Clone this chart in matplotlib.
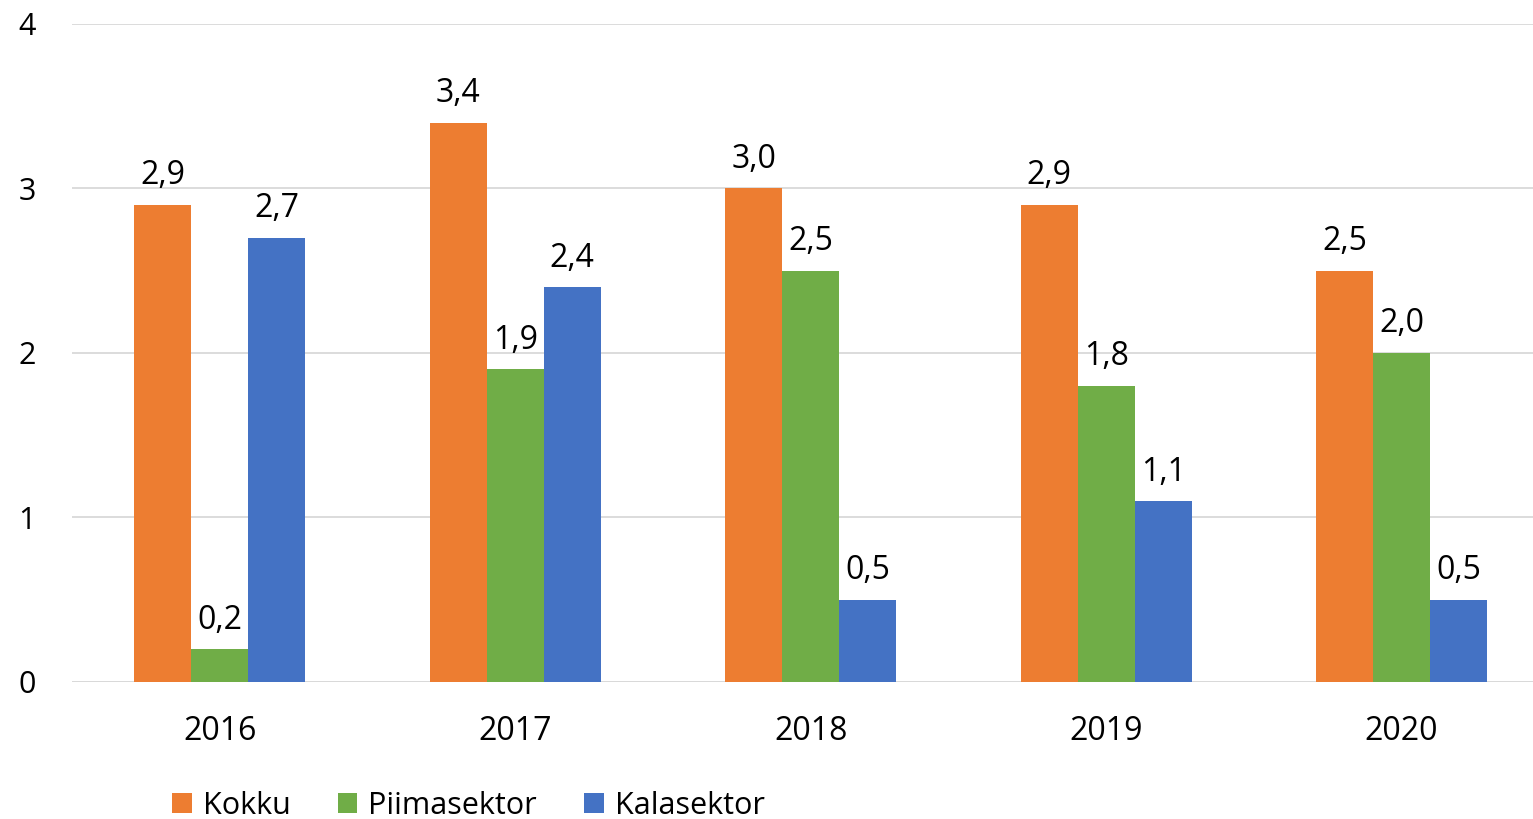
# Grouped bar chart: Kokku / Piimasektor / Kalasektor 2016-2020

import numpy as np
import matplotlib.pyplot as plt

plt.rcParams['font.family'] = ['Open Sans', 'DejaVu Sans']

years = ["2016", "2017", "2018", "2019", "2020"]
kokku = [2.9, 3.4, 3.0, 2.9, 2.5]
piimasektor = [0.2, 1.9, 2.5, 1.8, 2.0]
kalasektor = [2.7, 2.4, 0.5, 1.1, 0.5]

series = [("Kokku", kokku, "#ED7D31"),
          ("Piimasektor", piimasektor, "#70AD47"),
          ("Kalasektor", kalasektor, "#4472C4")]

fig = plt.figure(figsize=(15.33, 8.19), dpi=100)
ax = fig.add_axes([0.047, 0.1673, 0.953, 0.8034])

x = np.arange(len(years))
width = 0.193
for i, (name, vals, color) in enumerate(series):
    bars = ax.bar(x + (i - 1) * width, vals, width, color=color, label=name, zorder=3)
    for b, v in zip(bars, vals):
        ax.annotate(f"{v:.1f}".replace(".", ","), (b.get_x() + b.get_width() / 2, v),
                    xytext=(0, 9), textcoords="offset points",
                    ha="center", va="bottom", fontsize=23)

ax.set_ylim(0, 4)
ax.set_xlim(-0.5, 4.445)
ax.set_yticks([0, 1, 2, 3, 4])
ax.set_xticks(x)
ax.set_xticklabels(years)
ax.yaxis.grid(True, color="#D9D9D9", linewidth=1.3, zorder=0)
for s in ax.spines.values():
    s.set_visible(False)
ax.axhline(0, color="#D9D9D9", linewidth=1.3, zorder=2)
ax.tick_params(axis="both", length=0)
ax.tick_params(axis="y", pad=26, labelsize=22)
ax.tick_params(axis="x", pad=24, labelsize=23)

fig.legend(loc="center left", bbox_to_anchor=(0.104, 0.016), ncol=3, frameon=False,
           borderaxespad=0, fontsize=22, handlelength=0.65, handleheight=0.65,
           columnspacing=1.55, handletextpad=0.36)

plt.savefig("out.png", dpi=100)
